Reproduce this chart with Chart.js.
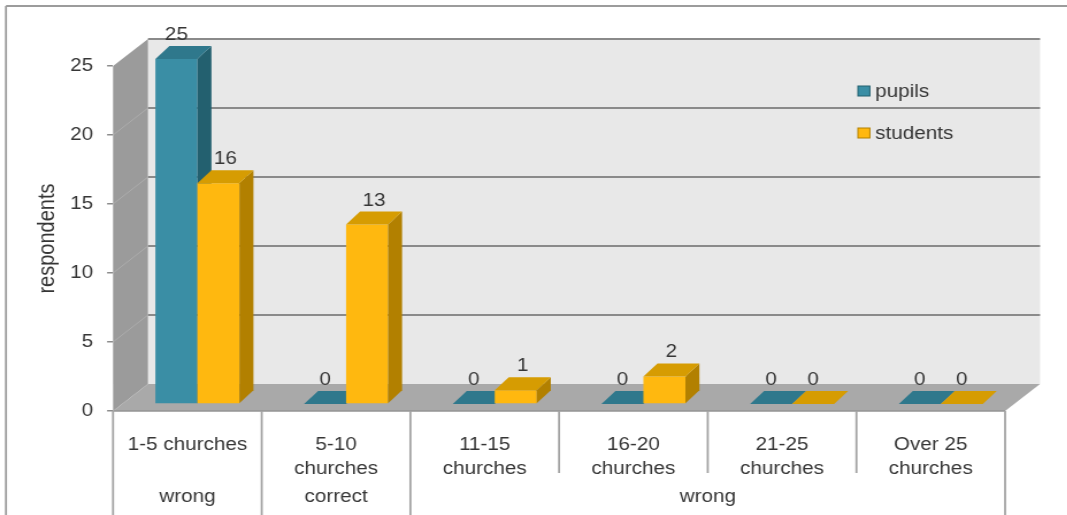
<!DOCTYPE html>
<html>
<head>
<meta charset="utf-8">
<script src="https://cdn.jsdelivr.net/npm/chart.js@4/dist/chart.umd.min.js"></script>
<style>
  html, body { margin: 0; padding: 0; background: #fff; overflow: hidden; }
  /* the chart is laid out narrow and widened a little, like the original slide */
  #wrap { width: 928px; height: 515px; transform: scaleX(1.15); transform-origin: 0 0; }
</style>
</head>
<body>
<div id="wrap"><canvas id="churchChart" width="928" height="515"></canvas></div>
<script>
var categories = [['1-5 churches'], ['5-10', 'churches'], ['11-15', 'churches'], ['16-20', 'churches'], ['21-25', 'churches'], ['Over 25', 'churches']];
var pupils = [25, 0, 0, 0, 0, 0];
var students = [16, 13, 1, 2, 0, 0];
var groupLabels = ['wrong', 'correct', 'wrong'];
var groupSpans = [1, 1, 4];
var yMax = 25;
var yStep = 5;

var textColor = '#363636';
var fontFamily = '"Liberation Sans", Arial, sans-serif';

// colours per series: front, top, side
var faces = [
  { front: '#3A8EA5', top: '#2F788C', side: '#23606F' },
  { front: '#FFB80F', top: '#D69C02', side: '#B28000' }
];

// depth of the walls / floor, and of each column
var wallDx = 30.4, wallDy = -27;
var barFx = 8.7, barFy = -7;
var barDx = 12.2, barDy = -13;

Chart.defaults.font.family = fontFamily;
Chart.defaults.color = textColor;

function poly(ctx, pts, fill) {
  ctx.beginPath();
  ctx.moveTo(pts[0][0], pts[0][1]);
  for (var i = 1; i < pts.length; i++) ctx.lineTo(pts[i][0], pts[i][1]);
  ctx.closePath();
  ctx.fillStyle = fill;
  ctx.fill();
}

function line(ctx, x0, y0, x1, y1, color, w) {
  ctx.beginPath();
  ctx.moveTo(x0, y0);
  ctx.lineTo(x1, y1);
  ctx.strokeStyle = color;
  ctx.lineWidth = w;
  ctx.stroke();
}

var box3d = {
  id: 'box3d',
  beforeDatasetsDraw: function (chart) {
    var ctx = chart.ctx, a = chart.chartArea, ys = chart.scales.y;
    var l = a.left, r = a.right, t = a.top, b = a.bottom;
    ctx.save();
    // back wall, side wall, floor
    poly(ctx, [[l + wallDx, t + wallDy], [r + wallDx, t + wallDy], [r + wallDx, b + wallDy], [l + wallDx, b + wallDy]], '#e8e8e8');
    poly(ctx, [[l, t], [l + wallDx, t + wallDy], [l + wallDx, b + wallDy], [l, b]], '#9b9b9b');
    poly(ctx, [[l, b], [r, b], [r + wallDx, b + wallDy], [l + wallDx, b + wallDy]], '#a9a9a9');
    // gridlines on back wall and side wall
    for (var v = yStep; v <= yMax; v += yStep) {
      var y = ys.getPixelForValue(v);
      line(ctx, l + wallDx, y + wallDy, r + wallDx, y + wallDy, '#8a8a8a', 2);
      if (v < yMax) line(ctx, l, y, l + wallDx, y + wallDy, '#adadad', 1);
    }
    line(ctx, l, b, r, b, '#959595', 1.5);
    ctx.restore();
  },
  beforeDatasetDraw: function () {
    return false; // columns are drawn below as prisms
  },
  afterDatasetsDraw: function (chart) {
    var ctx = chart.ctx;
    var metas = [chart.getDatasetMeta(0), chart.getDatasetMeta(1)];
    ctx.save();
    for (var j = 0; j < categories.length; j++) {
      for (var d = 0; d < metas.length; d++) {
        var p = metas[d].data[j].getProps(['x', 'y', 'base', 'width'], true);
        var x0 = p.x - p.width / 2 + barFx, x1 = p.x + p.width / 2 + barFx;
        var yt = p.y + barFy, yb = p.base + barFy;
        var f = faces[d];
        if (yb - yt > 0.5) {
          poly(ctx, [[x0, yt], [x1, yt], [x1, yb], [x0, yb]], f.front);
          poly(ctx, [[x1, yt], [x1 + barDx, yt + barDy], [x1 + barDx, yb + barDy], [x1, yb]], f.side);
        }
        poly(ctx, [[x0, yt], [x1, yt], [x1 + barDx, yt + barDy], [x0 + barDx, yt + barDy]], f.top);

        // value above the column; raised columns of the second series sit a bit further right
        var val = chart.data.datasets[d].data[j];
        var shift = (d === 1 && val > 0) ? 6 : 0;
        ctx.fillStyle = textColor;
        ctx.font = '18px ' + fontFamily;
        ctx.textAlign = 'center';
        ctx.textBaseline = 'middle';
        ctx.fillText(val, (x0 + x1) / 2 + shift, yt + barDy - 11);
      }
    }

    // legend inside the plot
    ctx.font = '18px ' + fontFamily;
    ctx.textAlign = 'left';
    ctx.textBaseline = 'middle';
    var legY = [91, 133];
    chart.data.datasets.forEach(function (ds, i) {
      ctx.fillStyle = ds.backgroundColor;
      ctx.fillRect(746, legY[i] - 5, 10.4, 10);
      ctx.strokeStyle = faces[i].side;
      ctx.lineWidth = 1;
      ctx.strokeRect(746, legY[i] - 5, 10.4, 10);
      ctx.fillStyle = textColor;
      ctx.fillText(ds.label, 761, legY[i] + 1);
    });
    ctx.restore();
  },
  afterDraw: function (chart) {
    var ctx = chart.ctx, a = chart.chartArea;
    var n = categories.length, cw = (a.right - a.left) / n;
    ctx.save();
    // frame
    line(ctx, 5.2, 6, 5.2, chart.height, '#9c9c9c', 1.8);
    line(ctx, 5.2, 6, chart.width, 6, '#9c9c9c', 1.8);
    // category dividers, longer ones between groups
    var bounds = [0], acc = 0;
    groupSpans.forEach(function (s) { acc += s; bounds.push(acc); });
    for (var i = 0; i <= n; i++) {
      var x = a.left + i * cw;
      var long = bounds.indexOf(i) >= 0;
      line(ctx, x, a.bottom, x, long ? chart.height : 473, '#a3a3a3', 1.8);
    }
    ctx.fillStyle = textColor;
    ctx.font = '18px ' + fontFamily;
    ctx.textAlign = 'center';
    ctx.textBaseline = 'middle';
    for (var g = 0; g < groupLabels.length; g++) {
      var cx = a.left + (bounds[g] + bounds[g + 1]) / 2 * cw;
      ctx.fillText(groupLabels[g], cx, 497);
    }
    ctx.restore();
  }
};

new Chart(document.getElementById('churchChart'), {
  type: 'bar',
  data: {
    labels: categories,
    datasets: [
      { label: 'pupils', data: pupils, backgroundColor: faces[0].front, categoryPercentage: 0.565, barPercentage: 1 },
      { label: 'students', data: students, backgroundColor: faces[1].front, categoryPercentage: 0.565, barPercentage: 1 }
    ]
  },
  options: {
    responsive: false,
    animation: false,
    layout: { padding: { left: 5, top: 66, right: 54, bottom: 0 } },
    plugins: { legend: { display: false }, tooltip: { enabled: false } },
    scales: {
      x: {
        grid: { display: false },
        border: { display: false },
        ticks: { font: { size: 18, lineHeight: 1.333 }, padding: 14, maxRotation: 0, autoSkip: false },
        afterFit: function (s) { s.height = 104; }
      },
      y: {
        min: 0,
        max: yMax,
        ticks: { stepSize: yStep, font: { size: 18 }, padding: 12 },
        grid: { drawOnChartArea: false, tickLength: 5.2, color: '#8c8c8c', lineWidth: 1.5 },
        border: { display: false },
        title: { display: true, text: 'respondents', font: { size: 20 }, padding: { top: 24.7 } },
        afterFit: function (s) { s.width = 93.3; }
      }
    }
  },
  plugins: [box3d]
});
</script>
</body>
</html>
